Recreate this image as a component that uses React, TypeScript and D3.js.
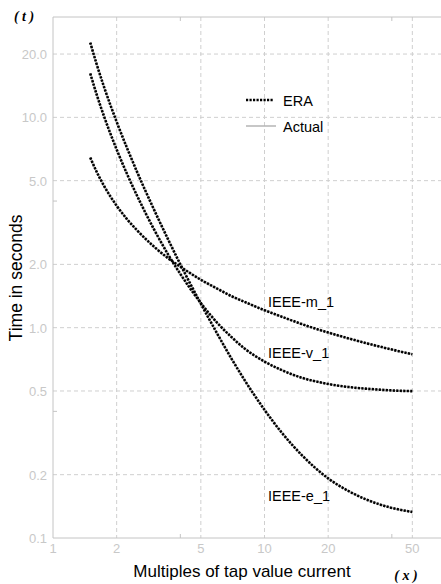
import React from "react";
import * as d3 from "d3";

// Multiples of tap value current at which each characteristic is sampled
const multiples = [1.5, 1.6, 1.75, 2, 2.25, 2.5, 3, 3.5, 4, 5, 6, 7, 8, 10, 12, 15, 20, 25, 30, 40, 50];

// Operating times in seconds for each characteristic
const moderateTimes = [6.44, 5.57, 4.69, 3.8, 3.26, 2.9, 2.43, 2.14, 1.95, 1.69, 1.53, 1.41, 1.33, 1.21, 1.13, 1.04, 0.948, 0.889, 0.846, 0.787, 0.747];
const veryTimes = [16.18, 13.06, 10.0, 7.03, 5.32, 4.23, 2.94, 2.23, 1.8, 1.31, 1.05, 0.9, 0.8, 0.69, 0.63, 0.578, 0.54, 0.522, 0.513, 0.503, 0.499];
const extremeTimes = [22.68, 18.2, 13.79, 9.52, 7.06, 5.49, 3.65, 2.63, 2.0, 1.3, 0.93, 0.709, 0.569, 0.407, 0.319, 0.248, 0.192, 0.167, 0.153, 0.139, 0.133];

const seriesNames = ["IEEE-m_1", "IEEE-v_1", "IEEE-e_1"];
const seriesTimes = [moderateTimes, veryTimes, extremeTimes];
// Label anchor for each curve: [multiple, time]
const labelAnchors: [number, number][] = [[10, 1.33], [10, 0.76], [10, 0.16]];

const xTicks = [1, 2, 5, 10, 20, 50];
const xTickLabels = ["1", "2", "5", "10", "20", "50"];
const yTicks = [20, 10, 5, 2, 1, 0.5, 0.2, 0.1];
const yTickLabels = ["20.0", "10.0", "5.0", "2.0", "1.0", "0.5", "0.2", "0.1"];
const xMinorTicks = [4, 40];
const yMinorTicks = [4, 0.4];

const legendItems = ["ERA", "Actual"];

const W = 441;
const H = 584;
const left = 53;
const top = 17;
const bottom = 538;

const x = d3.scaleLog().domain([1, 100]).range([left, left + 2 * 211.5]);
const y = d3.scaleLog().domain([0.1, 30]).range([bottom, top]);

const gridColor = "#cfcfcf";
const axisColor = "#c4c4c4";
const tickText = "#c8c8c8";
const sans = "'Liberation Sans', Arial, sans-serif";
const serif = "'Liberation Serif', 'Times New Roman', serif";

export default function App() {
  const line = d3
    .line<[number, number]>()
    .x((d) => x(d[0]))
    .y((d) => y(d[1]))
    .curve(d3.curveMonotoneX);

  const paths = seriesTimes.map((ts) => line(multiples.map((m, i) => [m, ts[i]] as [number, number])) || "");

  return (
    <svg width={W} height={H} style={{ position: "absolute", left: 0, top: 0, background: "#fff" }}>
      {/* grid */}
      {xTicks.slice(1).map((t) => (
        <line key={"gx" + t} x1={x(t)} x2={x(t)} y1={top} y2={bottom} stroke={gridColor} strokeDasharray="4 3" />
      ))}
      {yTicks.slice(0, -1).map((t) => (
        <line key={"gy" + t} x1={left} x2={W} y1={y(t)} y2={y(t)} stroke={gridColor} strokeDasharray="4 3" />
      ))}
      {/* frame */}
      <line x1={left} x2={left} y1={top} y2={bottom} stroke={axisColor} />
      <line x1={left} x2={W} y1={bottom} y2={bottom} stroke={axisColor} />
      <line x1={left} x2={W} y1={top} y2={top} stroke={axisColor} />
      {xMinorTicks.map((t) => (
        <g key={"mx" + t}>
          <line x1={x(t)} x2={x(t)} y1={bottom} y2={bottom - 4} stroke={axisColor} />
          <line x1={x(t)} x2={x(t)} y1={top} y2={top + 4} stroke={axisColor} />
        </g>
      ))}
      {yMinorTicks.map((t) => (
        <line key={"my" + t} x1={left} x2={left + 4} y1={y(t)} y2={y(t)} stroke={axisColor} />
      ))}
      {/* tick labels */}
      {xTicks.map((t, i) => (
        <text key={"tx" + t} x={x(t)} y={553} textAnchor="middle" fontFamily={sans} fontSize={13} fill={tickText}>
          {xTickLabels[i]}
        </text>
      ))}
      {yTicks.map((t, i) => (
        <text key={"ty" + t} x={47} y={y(t) + 5} textAnchor="end" fontFamily={sans} fontSize={13} fill={tickText}>
          {yTickLabels[i]}
        </text>
      ))}
      {/* curves: actual trace underneath, ERA dotted on top */}
      {paths.map((p, i) => (
        <path key={"a" + i} d={p} fill="none" stroke="#b5b5b5" strokeWidth={1.5} />
      ))}
      {paths.map((p, i) => (
        <path key={"e" + i} d={p} fill="none" stroke="#000" strokeWidth={2.6} strokeDasharray="2.2 1.3" />
      ))}
      {/* curve labels */}
      {seriesNames.map((n, i) => (
        <text key={n} x={268} y={y(labelAnchors[i][1]) + 5.5} fontFamily={sans} fontSize={14.5} fill="#000">
          {n}
        </text>
      ))}
      {/* legend */}
      <line x1={246} x2={273} y1={100} y2={100} stroke="#000" strokeWidth={2.6} strokeDasharray="2.2 1.3" />
      <text x={283} y={105.5} fontFamily={sans} fontSize={14.5} fill="#000">{legendItems[0]}</text>
      <line x1={246} x2={276} y1={126} y2={126} stroke="#b5b5b5" strokeWidth={1.5} />
      <text x={283} y={131.5} fontFamily={sans} fontSize={14.5} fill="#000">{legendItems[1]}</text>
      {/* axis titles */}
      <text transform="translate(22,278) rotate(-90)" textAnchor="middle" fontFamily={sans} fontSize={17.5} fill="#000">
        Time in seconds
      </text>
      <text x={242} y={577} textAnchor="middle" fontFamily={sans} fontSize={17} fill="#000">
        Multiples of tap value current
      </text>
      <text x={24} y={21} textAnchor="middle" fontFamily={serif} fontSize={14} fontWeight="bold" fontStyle="italic">
        ( t )
      </text>
      <text x={406} y={580} textAnchor="middle" fontFamily={serif} fontSize={14} fontWeight="bold" fontStyle="italic">
        ( x )
      </text>
    </svg>
  );
}
